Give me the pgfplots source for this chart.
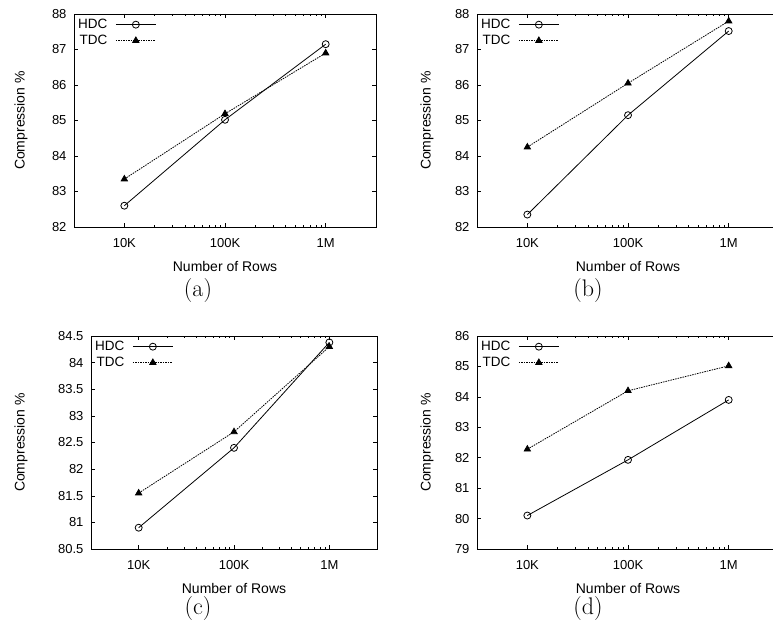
\documentclass[border=0pt]{standalone}
\usepackage{fontspec}
\usepackage{pgfplots}
\pgfplotsset{compat=1.18}
\newfontfamily\plotfont{Liberation Sans}

\pgfplotsset{
  panel/.style={
    scale only axis,
    width=302pt, height=213pt,
    xmin=3162, xmax=3162278,
    xtick={10000,100000,1000000},
    xticklabels={10K,100K,1M},
    tick align=inside,
    major tick length=4pt, minor tick length=2pt,
    every tick/.style={black, line width=0.5pt},
    axis line style={line width=0.7pt},
    tick label style={font=\plotfont\fontsize{13}{15}\selectfont},
    xticklabel style={yshift=-8pt},
    yticklabel style={xshift=-4pt},
    /pgf/number format/assume math mode=true,
    label style={font=\plotfont\fontsize{14}{16}\selectfont},
    xlabel={Number of Rows},
    ylabel={Compression \%},
    xlabel style={at={(axis description cs:0.5,0)}, anchor=center, yshift=-39pt},
    legend style={at={(0,1)}, anchor=north west, draw=none, fill=none,
      font=\plotfont\fontsize{13.5}{15}\selectfont, yshift=-1pt,
      inner sep=2pt, row sep=1pt, column sep=6pt},
    legend cell align=right,
    legend plot pos=right,
    legend image code/.code={
      \draw[mark repeat=2, mark phase=2, ##1] plot coordinates {(0pt,0pt) (20pt,0pt) (40pt,0pt)};
    },
  },
  ylab/.style={ylabel style={at={(axis description cs:0,0.5)}, anchor=center, yshift=#1}},
  hdc/.style={black, line width=0.8pt, mark=o, mark size=3.5pt, mark options={solid, fill=white}},
  tdc/.style={black, line width=0.8pt, dash pattern=on 1.5pt off 1pt, mark=triangle*, mark size=3.6pt, mark options={solid}},
}

\begin{document}
\begin{tikzpicture}
\useasboundingbox (0pt,0pt) rectangle (773pt,633pt);

% (a)
\begin{axis}[xmode=log, panel, ylab=53pt, at={(74pt,406pt)}, anchor=south west,
  ymin=82, ymax=88, ytick={82,83,...,88}]
\addplot[hdc] coordinates {(10000,82.6) (100000,85.02) (1000000,87.15)};
\addplot[tdc] coordinates {(10000,83.35) (100000,85.19) (1000000,86.9)};
\legend{HDC,TDC}
\end{axis}

% (b)
\begin{axis}[xmode=log, panel, ylab=50pt, at={(477pt,406pt)}, anchor=south west,
  ymin=82, ymax=88, ytick={82,83,...,88}]
\addplot[hdc] coordinates {(10000,82.35) (100000,85.15) (1000000,87.52)};
\addplot[tdc] coordinates {(10000,84.25) (100000,86.05) (1000000,87.8)};
\legend{HDC,TDC}
\end{axis}

% (c)
\begin{axis}[xmode=log, panel, width=286pt, ylab=70pt, at={(91pt,84pt)}, anchor=south west,
  ymin=80.5, ymax=84.5, ytick={80.5,81,...,84.5}]
\addplot[hdc] coordinates {(10000,80.9) (100000,82.4) (1000000,84.38)};
\addplot[tdc] coordinates {(10000,81.55) (100000,82.7) (1000000,84.3)};
\legend{HDC,TDC}
\end{axis}

% (d)
\begin{axis}[xmode=log, panel, ylab=50pt, at={(477pt,84pt)}, anchor=south west,
  ymin=79, ymax=86, ytick={79,80,...,86}]
\addplot[hdc] coordinates {(10000,80.1) (100000,81.93) (1000000,83.9)};
\addplot[tdc] coordinates {(10000,82.28) (100000,84.2) (1000000,85.02)};
\legend{HDC,TDC}
\end{axis}

\node[font=\fontsize{24}{28}\selectfont] at (198pt,342pt) {(a)};
\node[font=\fontsize{24}{28}\selectfont] at (588pt,342pt) {(b)};
\node[font=\fontsize{24}{28}\selectfont] at (198pt,24pt) {(c)};
\node[font=\fontsize{24}{28}\selectfont] at (588pt,24pt) {(d)};
\end{tikzpicture}
\end{document}
